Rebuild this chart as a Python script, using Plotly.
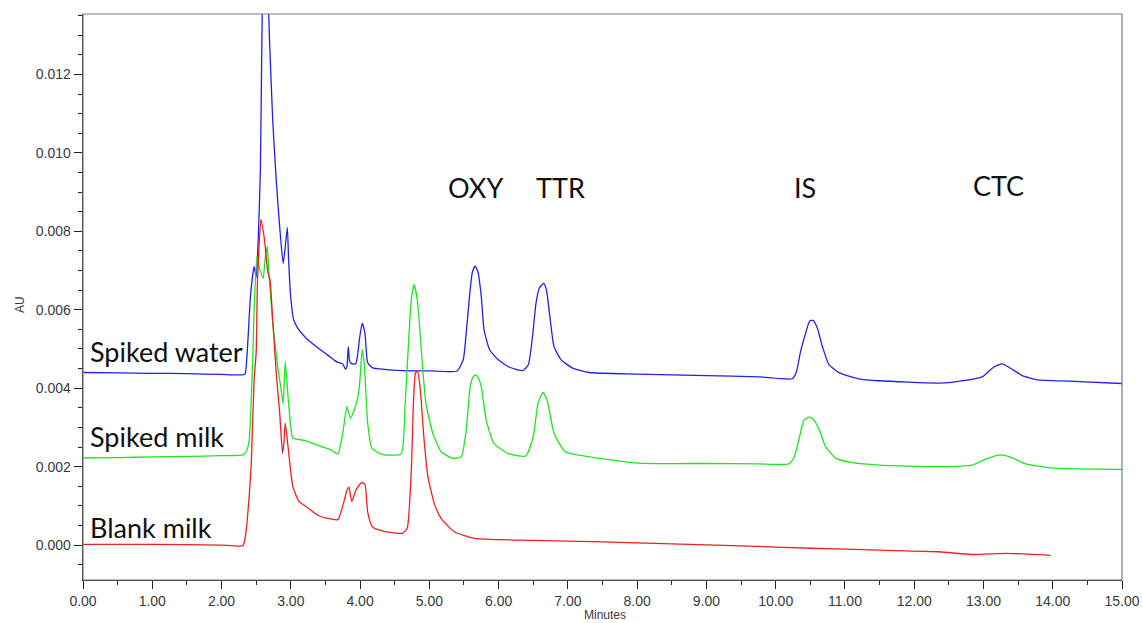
import plotly.graph_objects as go

# ---------------- data ----------------
water_t = [0.00, 0.50, 1.00, 1.50, 2.00, 2.30, 2.34, 2.38, 2.42, 2.47, 2.50, 2.53, 2.56, 2.58,
           2.60, 2.63, 2.66, 2.69, 2.74, 2.79, 2.84, 2.89, 2.92, 2.95, 2.97, 3.00, 3.04, 3.10,
           3.24, 3.39, 3.53, 3.63, 3.68, 3.75, 3.79, 3.81, 3.83, 3.85, 3.88, 3.94, 3.99, 4.03,
           4.07, 4.11, 4.18, 4.35, 4.61, 5.00, 5.40, 5.49, 5.53, 5.58, 5.62, 5.66, 5.70, 5.75,
           5.79, 5.87, 5.99, 6.15, 6.35, 6.43, 6.49, 6.54, 6.59, 6.65, 6.69, 6.74, 6.80, 6.90,
           7.07, 7.31, 8.00, 9.00, 9.76, 10.24, 10.30, 10.36, 10.44, 10.49, 10.54, 10.60, 10.68,
           10.77, 10.92, 11.20, 11.49, 12.36, 12.74, 12.98, 13.15, 13.27, 13.39, 13.56, 13.80,
           14.38, 15.00]
water_v = [0.00440, 0.00439, 0.00438, 0.00437, 0.00435, 0.00434, 0.00436, 0.00520, 0.00640,
           0.00710, 0.00682, 0.00780, 0.00950, 0.01250, 0.01480, 0.01560, 0.01480, 0.01300,
           0.01080, 0.00930, 0.00810, 0.00718, 0.00760, 0.00810, 0.00720, 0.00630, 0.00575,
           0.00553, 0.00524, 0.00503, 0.00485, 0.00471, 0.00466, 0.00462, 0.00448, 0.00455,
           0.00506, 0.00468, 0.00462, 0.00463, 0.00524, 0.00566, 0.00541, 0.00465, 0.00452,
           0.00448, 0.00445, 0.00444, 0.00444, 0.00473, 0.00536, 0.00634, 0.00695, 0.00711,
           0.00698, 0.00634, 0.00549, 0.00498, 0.00473, 0.00454, 0.00445, 0.00460, 0.00532,
           0.00617, 0.00656, 0.00667, 0.00651, 0.00583, 0.00506, 0.00473, 0.00451, 0.00440,
           0.00436, 0.00432, 0.00429, 0.00424, 0.00442, 0.00494, 0.00545, 0.00571, 0.00573,
           0.00554, 0.00503, 0.00460, 0.00439, 0.00424, 0.00419, 0.00413, 0.00420, 0.00429,
           0.00454, 0.00462, 0.00451, 0.00432, 0.00421, 0.00417, 0.00412]

milk_t = [0.00, 0.50, 1.00, 1.50, 2.00, 2.31, 2.36, 2.40, 2.44, 2.47, 2.51, 2.55, 2.60, 2.63,
          2.66, 2.69, 2.74, 2.81, 2.87, 2.89, 2.92, 2.96, 3.00, 3.03, 3.22, 3.41, 3.58, 3.68,
          3.75, 3.81, 3.86, 3.94, 3.99, 4.03, 4.06, 4.11, 4.17, 4.30, 4.59, 4.65, 4.69, 4.74,
          4.78, 4.83, 4.88, 4.95, 5.05, 5.17, 5.34, 5.46, 5.53, 5.59, 5.63, 5.67, 5.71, 5.75,
          5.82, 5.93, 6.13, 6.39, 6.50, 6.57, 6.64, 6.70, 6.80, 6.96, 7.27, 8.00, 9.00, 9.76,
          10.19, 10.27, 10.35, 10.41, 10.49, 10.55, 10.63, 10.72, 10.87, 11.11, 11.49, 12.36,
          12.84, 13.03, 13.25, 13.39, 13.61, 14.04, 15.00]
milk_v = [0.00222, 0.00223, 0.00225, 0.00226, 0.00228, 0.00230, 0.00240, 0.00268, 0.00421,
          0.00593, 0.00736, 0.00705, 0.00680, 0.00730, 0.00762, 0.00677, 0.00566, 0.00455,
          0.00385, 0.00360, 0.00468, 0.00379, 0.00300, 0.00273, 0.00266, 0.00253, 0.00243,
          0.00232, 0.00285, 0.00353, 0.00323, 0.00357, 0.00404, 0.00498, 0.00464, 0.00311,
          0.00247, 0.00232, 0.00232, 0.00357, 0.00485, 0.00626, 0.00664, 0.00621, 0.00507,
          0.00362, 0.00285, 0.00238, 0.00221, 0.00225, 0.00290, 0.00404, 0.00428, 0.00434,
          0.00425, 0.00404, 0.00319, 0.00260, 0.00234, 0.00227, 0.00277, 0.00362, 0.00389,
          0.00370, 0.00285, 0.00238, 0.00226, 0.00209, 0.00208, 0.00207, 0.00207, 0.00226,
          0.00280, 0.00319, 0.00326, 0.00319, 0.00294, 0.00251, 0.00221, 0.00210, 0.00204,
          0.00200, 0.00204, 0.00219, 0.00230, 0.00224, 0.00207, 0.00196, 0.00193]

blank_t = [0.00, 1.00, 2.00, 2.31, 2.35, 2.38, 2.43, 2.47, 2.50, 2.52, 2.57, 2.62, 2.67, 2.70,
           2.74, 2.79, 2.84, 2.88, 2.90, 2.92, 2.96, 3.03, 3.12, 3.20, 3.39, 3.53, 3.68, 3.76,
           3.81, 3.84, 3.88, 3.94, 4.02, 4.07, 4.11, 4.18, 4.35, 4.61, 4.68, 4.74, 4.77, 4.80,
           4.83, 4.87, 4.92, 4.98, 5.07, 5.17, 5.36, 5.65, 6.50, 7.50, 8.50, 9.50, 10.50, 11.50,
           12.36, 12.84, 13.32, 13.97]
blank_v = [0.00002, 0.00002, 0.00000, -0.00001, 0.00030, 0.00082, 0.00210, 0.00421, 0.00490,
           0.00677, 0.00830, 0.00779, 0.00694, 0.00677, 0.00570, 0.00439, 0.00336, 0.00234,
           0.00260, 0.00311, 0.00251, 0.00149, 0.00111, 0.00101, 0.00076, 0.00068, 0.00065,
           0.00106, 0.00140, 0.00148, 0.00111, 0.00140, 0.00159, 0.00155, 0.00084, 0.00046,
           0.00035, 0.00030, 0.00043, 0.00192, 0.00360, 0.00439, 0.00443, 0.00396, 0.00277,
           0.00174, 0.00107, 0.00068, 0.00034, 0.00017, 0.00012, 0.00008, 0.00003, -0.00002,
           -0.00008, -0.00013, -0.00017, -0.00024, -0.00021, -0.00026]

trace_names = ["Spiked water", "Spiked milk", "Blank milk"]
trace_colors = ["#2222e6", "#1ee61e", "#f02020"]
trace_label_y = [0.00493, 0.00276, 0.00046]

peak_names = ["OXY", "TTR", "IS", "CTC"]
peak_label_x = [5.66, 6.89, 10.43, 13.21]
peak_label_y = [0.00912, 0.00912, 0.00912, 0.00917]

x_ticks = [0, 1, 2, 3, 4, 5, 6, 7, 8, 9, 10, 11, 12, 13, 14, 15]
y_ticks = [0.000, 0.002, 0.004, 0.006, 0.008, 0.010, 0.012]

# ---------------- figure ----------------
fig = go.Figure()
series = [(water_t, water_v), (milk_t, milk_v), (blank_t, blank_v)]
for (tt, vv), name, col in zip(series, trace_names, trace_colors):
    fig.add_trace(go.Scatter(x=tt, y=vv, mode="lines", name=name,
                             line=dict(color=col, width=1.3, shape="spline", smoothing=0.5),
                             showlegend=False, hoverinfo="skip"))

label_font = dict(family="Lato, 'Open Sans', sans-serif", size=27, color="#111111")
for name, yv in zip(trace_names, trace_label_y):
    fig.add_annotation(x=0.07, y=yv, xref="x", yref="y", text=name, showarrow=False,
                       xanchor="left", yanchor="middle", font=label_font)
for name, xv, yv in zip(peak_names, peak_label_x, peak_label_y):
    fig.add_annotation(x=xv, y=yv, xref="x", yref="y", text=name, showarrow=False,
                       xanchor="center", yanchor="middle", font=label_font)

axis_font = dict(family="'Liberation Sans', Arial, sans-serif", size=14, color="#3a3a3a")
title_font = dict(family="'Liberation Sans', Arial, sans-serif", size=12, color="#3a3a3a")

fig.add_annotation(x=-0.0606, y=0.486, xref="paper", yref="paper", text="AU",
                   showarrow=False, textangle=-90, xanchor="center", yanchor="middle",
                   font=title_font)
fig.add_annotation(x=0.5024, y=-0.0618, xref="paper", yref="paper", text="Minutes",
                   showarrow=False, xanchor="center", yanchor="middle", font=title_font)

# plot frame
fig.add_shape(type="rect", xref="paper", yref="paper", x0=0, y0=0, x1=1, y1=1,
              line=dict(color="#7a7a7a", width=1.2), layer="above")

fig.update_xaxes(range=[0, 15], tickvals=x_ticks, ticktext=[f"{v:.2f}" for v in x_ticks],
                 ticks="outside", ticklen=8, tickwidth=1, tickcolor="#222222",
                 showline=True, linecolor="#222222", linewidth=1.3, showgrid=False,
                 zeroline=False, tickfont=axis_font, automargin=False,
                 minor=dict(dtick=0.5, ticks="outside", ticklen=4, tickcolor="#222222",
                            showgrid=False))
fig.update_yaxes(range=[-0.00089, 0.01354], tickvals=y_ticks,
                 ticktext=[f"{v:.3f}" for v in y_ticks],
                 ticks="outside", ticklen=8, tickwidth=1, tickcolor="#222222",
                 showline=True, linecolor="#222222", linewidth=1.3, showgrid=False,
                 zeroline=False, tickfont=axis_font, automargin=False,
                 minor=dict(dtick=0.0005, tick0=0, ticks="outside", ticklen=4,
                            tickcolor="#222222", showgrid=False))

fig.update_layout(width=1143, height=623, plot_bgcolor="white", paper_bgcolor="white",
                  margin=dict(l=83, r=21, t=14, b=43, autoexpand=False))

# remove the default page margin so the figure fills the window exactly
fig.write_html("out.html", config={"displayModeBar": False, "staticPlot": True},
               post_script="document.body.style.margin='0';document.body.style.overflow='hidden';")
